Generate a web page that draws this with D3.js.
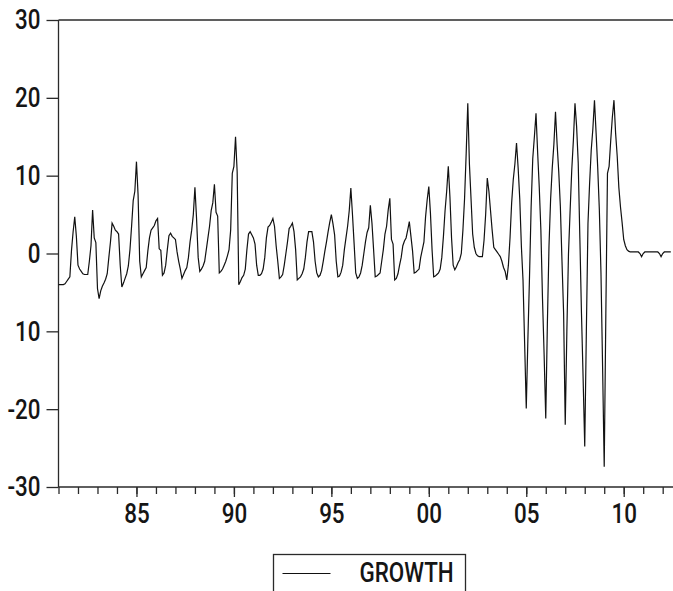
<!DOCTYPE html>
<html>
<head>
<meta charset="utf-8">
<script src="https://cdn.jsdelivr.net/npm/d3@7"></script>
<style>
  body { margin: 0; background: #fff; }
  svg { display: block; }
  text { font-family: Roboto, "Liberation Sans", sans-serif; font-weight: 500; font-size: 28px; fill: #151515; }
</style>
</head>
<body>
<div id="chart"></div>
<script>
/* Monthly GROWTH series, 1981M01 - 2012M06 */

const startYear = 1981;

// one row per year, Jan..Dec
const growth = [
  -4.0, -4.0, -4.0, -4.0, -3.9, -3.6, -3.3, -3.0, 0.4, 2.8, 4.7, 2.2,      // 1981
  -1.5, -2.0, -2.3, -2.6, -2.7, -2.7, -2.7, -1.0, 1.0, 5.6, 2.0, 1.4,      // 1982
  -4.5, -5.8, -4.8, -4.2, -3.8, -3.3, -2.6, -0.5, 1.5, 3.9, 3.5, 3.0,      // 1983
  2.8, 2.5, -1.5, -4.3, -3.8, -3.2, -2.6, -1.6, 0.5, 3.5, 6.8, 8.0,        // 1984
  11.8, 7.5, -1.0, -3.0, -2.6, -2.2, -1.8, 0.3, 2.0, 3.0, 3.3, 3.6,        // 1985
  4.2, 4.5, 0.6, 0.4, -2.8, -2.5, -1.5, 0.5, 2.3, 2.6, 2.2, 2.0,           // 1986
  1.8, 0.2, -1.0, -2.0, -3.2, -2.7, -2.2, -1.8, -0.5, 1.5, 3.0, 5.0,       // 1987
  8.5, 4.5, -0.5, -2.3, -2.0, -1.6, -1.0, 0.5, 2.0, 3.5, 5.5, 6.5,         // 1988
  8.9, 5.3, 4.8, -2.5, -2.3, -2.0, -1.5, -1.0, -0.3, 0.5, 3.0, 10.3,       // 1989
  11.2, 15.0, 10.5, -4.0, -3.6, -3.1, -2.8, -2.0, 0.5, 2.5, 2.8, 2.4,      // 1990
  2.0, 1.2, -1.5, -2.8, -2.8, -2.6, -2.0, -0.5, 2.0, 3.4, 3.6, 4.0,        // 1991
  4.5, 3.5, 1.0, -1.0, -3.2, -3.0, -2.7, -1.5, 0.0, 1.5, 3.2, 3.5,         // 1992
  3.9, 2.8, 0.5, -3.4, -3.2, -3.0, -2.6, -2.0, -0.5, 1.5, 2.8, 2.8,        // 1993
  2.8, 1.5, -1.0, -2.5, -3.0, -2.8, -2.2, -1.0, 0.3, 1.5, 2.8, 4.0,        // 1994
  5.0, 3.8, 2.4, -1.0, -3.0, -2.9, -2.4, -1.5, 0.5, 2.0, 3.5, 5.5,         // 1995
  8.4, 5.0, 1.3, -2.5, -3.2, -3.0, -2.5, -1.5, 0.0, 1.5, 2.7, 3.3,         // 1996
  6.2, 3.9, 0.5, -3.0, -2.9, -2.7, -2.5, -1.0, 0.5, 2.5, 3.5, 5.6,         // 1997
  7.1, 1.8, 1.2, -3.4, -3.2, -2.6, -1.5, -0.5, 1.0, 1.6, 2.0, 3.0,         // 1998
  4.1, 2.2, 0.3, -2.5, -2.4, -2.2, -2.0, -0.5, 0.5, 1.5, 4.7, 6.9,         // 1999
  8.6, 5.2, 0.5, -3.0, -2.9, -2.7, -2.5, -2.0, -0.5, 2.2, 5.5, 8.0,        // 2000
  11.2, 7.3, 2.0, -1.5, -2.1, -1.7, -1.2, -0.8, 0.0, 3.0, 7.0, 12.8,       // 2001
  19.3, 11.5, 7.0, 2.5, 0.8, 0.0, -0.3, -0.4, -0.4, -0.4, 1.7, 5.0,        // 2002
  9.7, 8.0, 5.5, 3.0, 0.8, 0.5, 0.2, -0.1, -0.4, -1.0, -1.8, -2.3,         // 2003
  -3.4, -1.5, 2.0, 6.5, 9.5, 11.5, 14.2, 11.0, 7.0, 0.9, -3.4, -11.6,      // 2004
  -19.9, -11.0, -3.0, 6.0, 12.2, 15.0, 18.0, 13.0, 8.5, 3.0, -5.8, -13.0,  // 2005
  -21.2, -9.0, 1.0, 7.0, 11.0, 14.0, 18.2, 14.0, 10.5, 6.0, -1.0, -7.7,    // 2006
  -22.0, -10.0, 0.0, 5.5, 10.7, 14.5, 19.3, 16.3, 11.6, 2.0, -7.7, -16.0,  // 2007
  -24.8, -10.0, 3.9, 9.0, 13.3, 16.0, 19.7, 15.5, 11.0, 5.6, -2.5, -14.6,  // 2008
  -27.4, -7.7, 10.3, 11.2, 14.5, 17.5, 19.7, 15.5, 12.5, 8.5, 6.0, 4.0,    // 2009
  1.8, 1.0, 0.5, 0.3, 0.2, 0.2, 0.2, 0.2, 0.2, 0.2, 0.0, -0.4,             // 2010
  0.0, 0.2, 0.2, 0.2, 0.2, 0.2, 0.2, 0.2, 0.2, 0.2, 0.0, -0.4,             // 2011
  0.0, 0.2, 0.2, 0.2, 0.2, 0.2                                             // 2012
];

const yTicks = [-30, -20, -10, 0, 10, 20, 30];
const yTickLabels = ["-30", "-20", "10", "0", "10", "20", "30"];
const xMajorTicks = [1985, 1990, 1995, 2000, 2005, 2010];
const xMinorTicks = d3.range(1981, 2013);
const seriesName = "GROWTH";

const width = 673,
      height = 591,
      margin = ({ top: 20, right: 0, bottom: 104, left: 58.5 }),
      squeeze = 0.8; // condensed look for the labels

const data = growth.map((v, i) => ({ t: startYear + i / 12, v: v }));

let svg = d3.select("#chart")
    .append("svg")
    .attr("width", width)
    .attr("height", height);

let x = d3.scaleLinear()
    .domain([startYear, startYear + (width - margin.left) / 19.49])
    .range([margin.left, width]);

let y = d3.scaleLinear()
    .domain([-30, 30])
    .range([height - margin.bottom, margin.top]);

const axisColor = "#2a2a2a";

// top frame line
svg.append("line")
    .attr("x1", x(startYear)).attr("x2", width)
    .attr("y1", y(30)).attr("y2", y(30))
    .attr("stroke", axisColor)
    .attr("stroke-width", 1.3);

// y axis
let yAxis = svg.append("g")
    .attr("transform", `translate(${margin.left},0)`)
    .call(d3.axisLeft(y)
        .tickValues(yTicks)
        .tickSize(12)
        .tickPadding(6)
        .tickFormat((d, i) => yTickLabels[i]));

// x axis: yearly minor ticks, then 5-year labelled ticks
let xMinor = svg.append("g")
    .attr("transform", `translate(0,${height - margin.bottom})`)
    .call(d3.axisBottom(x)
        .tickValues(xMinorTicks)
        .tickSize(7)
        .tickFormat(""));

let xMajor = svg.append("g")
    .attr("transform", `translate(0,${height - margin.bottom})`)
    .call(d3.axisBottom(x)
        .tickValues(xMajorTicks)
        .tickSize(10)
        .tickPadding(6)
        .tickFormat(d => String(d % 100).padStart(2, "0")));

svg.selectAll(".domain").attr("stroke", axisColor).attr("stroke-width", 1.3);
svg.selectAll(".tick line").attr("stroke", axisColor).attr("stroke-width", 1.3);
xMinor.select(".domain").attr("d", `M${x(startYear)},0H${width}`);
xMajor.select(".domain").remove();
yAxis.select(".domain").attr("d", `M0,${y(-30)}V${y(30)}`);

svg.selectAll(".tick text")
    .attr("fill", "#151515")
    .style("font-size", "28px")
    .style("font-family", "Roboto, 'Liberation Sans', sans-serif")
    .style("font-weight", 500);

// narrow the labels without moving their anchor
yAxis.selectAll(".tick text")
    .attr("x", -18 / squeeze)
    .attr("transform", `scale(${squeeze},1)`);
xMajor.selectAll(".tick text")
    .attr("transform", `scale(${squeeze},1)`);

// series line
let line = d3.line()
    .x(d => x(d.t))
    .y(d => y(d.v));

svg.append("path")
    .datum(data)
    .attr("fill", "none")
    .attr("stroke", "#111")
    .attr("stroke-width", 1.2)
    .attr("stroke-linejoin", "miter")
    .attr("d", line);

// legend box (bottom edge runs off the page)
let legend = svg.append("g")
    .attr("transform", "translate(273.5,554.5)");

legend.append("rect")
    .attr("width", 192)
    .attr("height", 60)
    .attr("fill", "none")
    .attr("stroke", axisColor)
    .attr("stroke-width", 1.3);

legend.append("line")
    .attr("x1", 9).attr("x2", 57)
    .attr("y1", 19).attr("y2", 19)
    .attr("stroke", "#111")
    .attr("stroke-width", 1.2);

legend.append("text")
    .attr("transform", `translate(86,27.5) scale(${squeeze},1)`)
    .text(seriesName);
</script>
</body>
</html>
